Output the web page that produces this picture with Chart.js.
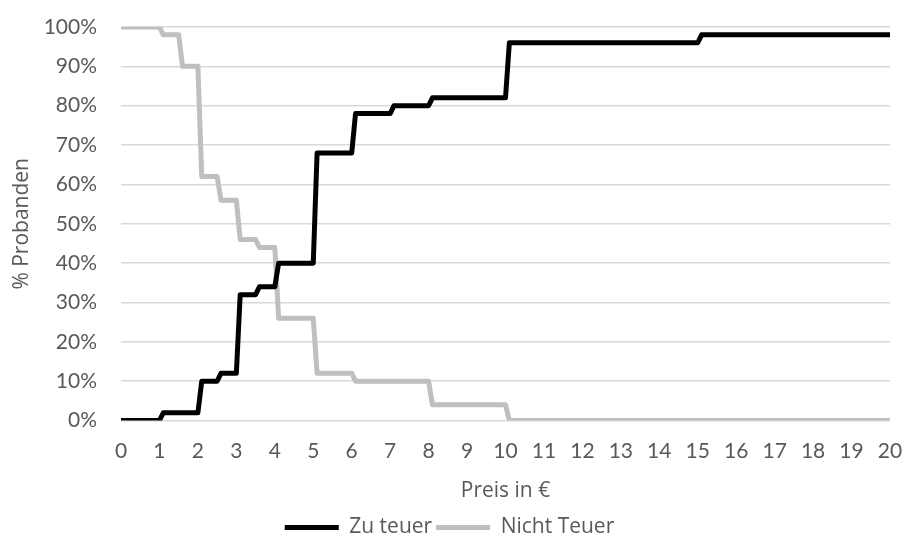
<!DOCTYPE html>
<html lang="de">
<head>
<meta charset="utf-8">
<title>Preisbereitschaft</title>
<script src="https://cdn.jsdelivr.net/npm/chart.js@4.4.1/dist/chart.umd.min.js"></script>
<style>
  html, body { margin: 0; padding: 0; background: #ffffff; }
  #wrap { width: 904px; height: 542px; }
</style>
</head>
<body>
<div id="wrap"><canvas id="chart" width="904" height="542"></canvas></div>
<script>
// Kumulierte Anteile der Probanden je Preis (in €)
const zuTeuerPreis  = [0, 1, 1.1, 2, 2.1, 2.5, 2.6, 3, 3.1, 3.5, 3.6, 4, 4.1, 5, 5.1, 6, 6.1, 7, 7.1, 8, 8.1, 10, 10.1, 15, 15.1, 20];
const zuTeuerAnteil = [0, 0, 2,   2, 10,  10,  12,  12, 32, 32,  34,  34, 40, 40, 68, 68, 78, 78, 80, 80, 82, 82, 96, 96, 98, 98];

const nichtTeuerPreis  = [0, 1, 1.1, 1.5, 1.6, 2, 2.1, 2.5, 2.6, 3, 3.1, 3.5, 3.6, 4, 4.1, 5, 5.1, 6, 6.1, 8, 8.1, 10, 10.1, 20];
const nichtTeuerAnteil = [100, 100, 98, 98, 90, 90, 62, 62, 56, 56, 46, 46, 44, 44, 26, 26, 12, 12, 10, 10, 4, 4, 0, 0];

const serienNamen = ['Zu teuer', 'Nicht Teuer'];
const preisTicks = [0, 20, 1];       // min, max, Schritt
const anteilTicks = [0, 100, 10];    // min, max, Schritt

const punkte = (xs, ys) => xs.map((x, i) => ({ x: x, y: ys[i] }));

const textFarbe = '#595959';
const tickSchrift = { family: 'Lato, "Open Sans", sans-serif', size: 21 };
const titelSchrift = { family: '"Open Sans", Lato, sans-serif', size: 21 };
const legendenSchrift = { family: '"Open Sans", Lato, sans-serif', size: 21 };

// Unsichtbare Tick-Striche schaffen den Abstand zwischen Achse und Beschriftung
const unsichtbar = 'rgba(0,0,0,0)';

new Chart(document.getElementById('chart'), {
  type: 'line',
  data: {
    datasets: [
      {
        label: serienNamen[0],
        data: punkte(zuTeuerPreis, zuTeuerAnteil),
        borderColor: '#000000',
        backgroundColor: '#000000',
        borderWidth: 5,
        borderCapStyle: 'round',
        borderJoinStyle: 'round',
        pointRadius: 0,
        pointHoverRadius: 0,
        tension: 0,
        fill: false
      },
      {
        label: serienNamen[1],
        data: punkte(nichtTeuerPreis, nichtTeuerAnteil),
        borderColor: '#bfbfbf',
        backgroundColor: '#bfbfbf',
        borderWidth: 5,
        borderCapStyle: 'round',
        borderJoinStyle: 'round',
        pointRadius: 0,
        pointHoverRadius: 0,
        tension: 0,
        fill: false
      }
    ]
  },
  options: {
    responsive: false,
    animation: false,
    events: [],
    layout: { padding: { left: 9, right: 14, top: 27, bottom: -6 } },
    plugins: {
      tooltip: { enabled: false },
      legend: {
        position: 'bottom',
        labels: {
          usePointStyle: true,
          pointStyle: 'line',
          pointStyleWidth: 54,
          color: textFarbe,
          font: legendenSchrift,
          padding: 4,
          boxHeight: 20
        }
      }
    },
    scales: {
      x: {
        type: 'linear',
        min: preisTicks[0],
        max: preisTicks[1],
        grid: { display: true, drawOnChartArea: false, drawTicks: true, tickLength: 18, tickColor: unsichtbar },
        border: { display: false },
        ticks: {
          stepSize: preisTicks[2],
          autoSkip: false,
          maxRotation: 0,
          color: textFarbe,
          font: tickSchrift,
          padding: 0
        },
        title: {
          display: true,
          text: 'Preis in €',
          color: textFarbe,
          font: titelSchrift,
          padding: { top: 15, bottom: 9 }
        }
      },
      y: {
        min: anteilTicks[0],
        max: anteilTicks[1],
        afterFit: (scale) => { scale.width = 112; },
        grid: { color: '#d9d9d9', lineWidth: 1.5, drawTicks: true, tickLength: 24, tickColor: unsichtbar },
        border: { display: false },
        ticks: {
          stepSize: anteilTicks[2],
          color: textFarbe,
          font: tickSchrift,
          padding: 0,
          callback: (v) => v + '%'
        },
        title: {
          display: true,
          text: '% Probanden',
          color: textFarbe,
          font: titelSchrift,
          padding: { top: 0, bottom: 0 }
        }
      }
    }
  }
});
</script>
</body>
</html>
